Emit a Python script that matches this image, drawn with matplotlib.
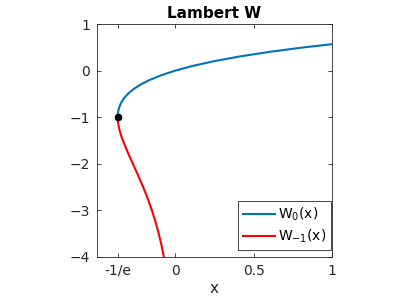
import matplotlib
matplotlib.use("Agg")
import matplotlib.pyplot as plt

# upper branch W0: (x, W0(x)) points
w0_x = [-0.3679, -0.3677, -0.3674, -0.3659, -0.3633, -0.3595, -0.3476, -0.3293,
        -0.3033, -0.2681, -0.2222, -0.1637, -0.0905, 0.0, 0.1105, 0.2443,
        0.4050, 0.5967, 0.8244, 1.0]
w0_y = [-1.0, -0.975, -0.95, -0.9, -0.85, -0.8, -0.7, -0.6,
        -0.5, -0.4, -0.3, -0.2, -0.1, 0.0, 0.1, 0.2,
        0.3, 0.4, 0.5, 0.567]

# lower branch W-1: points
wm1_x = [-0.3679, -0.3678, -0.3674, -0.3662, -0.3614, -0.3543, -0.3452, -0.3347,
         -0.3041, -0.2707, -0.2372, -0.2052, -0.1758, -0.1494, -0.1261, -0.1057,
         -0.0882, -0.0733]
wm1_y = [-1.0, -1.025, -1.05, -1.1, -1.2, -1.3, -1.4, -1.5,
         -1.75, -2.0, -2.25, -2.5, -2.75, -3.0, -3.25, -3.5,
         -3.75, -4.0]

branch_x = -0.3679
branch_y = -1.0

xtick_pos = [-0.3679, 0, 0.5, 1]
xtick_labels = ['-1/e', '0', '0.5', '1']
ytick_pos = [-4, -3, -2, -1, 0, 1]

edge = '#262626'

fig = plt.figure(figsize=(4.15, 3.01), dpi=100)
ax = fig.add_axes([97 / 415, 1 - 257 / 301, 235 / 415, 233 / 301])

ax.plot(w0_x, w0_y, color='#0072BD', lw=1.5, label='W$_0$(x)')
ax.plot(wm1_x, wm1_y, color='#FF0000', lw=1.5, label='W$_{-1}$(x)')
ax.plot([branch_x], [branch_y], 'o', color='black', ms=4.5)

ax.set_xlim(-0.5, 1)
ax.set_ylim(-4, 1)
ax.set_xticks(xtick_pos)
ax.set_xticklabels(xtick_labels)
ax.set_yticks(ytick_pos)
ax.tick_params(direction='in', top=True, right=True, length=3, width=0.6,
               labelsize=10, colors=edge, pad=5)
for s in ax.spines.values():
    s.set_linewidth(0.6)
    s.set_color(edge)

ax.set_title('Lambert W', fontsize=11, fontweight='bold', pad=4)
ax.set_xlabel('x', fontsize=11, color=edge, labelpad=2)

leg = ax.legend(loc='lower right', fontsize=10, fancybox=False, framealpha=1,
                bbox_to_anchor=(0.995, 0.03), borderaxespad=0.0,
                handlelength=2.3, handletextpad=0.2,
                borderpad=0.35, labelspacing=0.35)
leg.get_frame().set_edgecolor(edge)
leg.get_frame().set_linewidth(0.6)

fig.savefig('out.png', dpi=100)
